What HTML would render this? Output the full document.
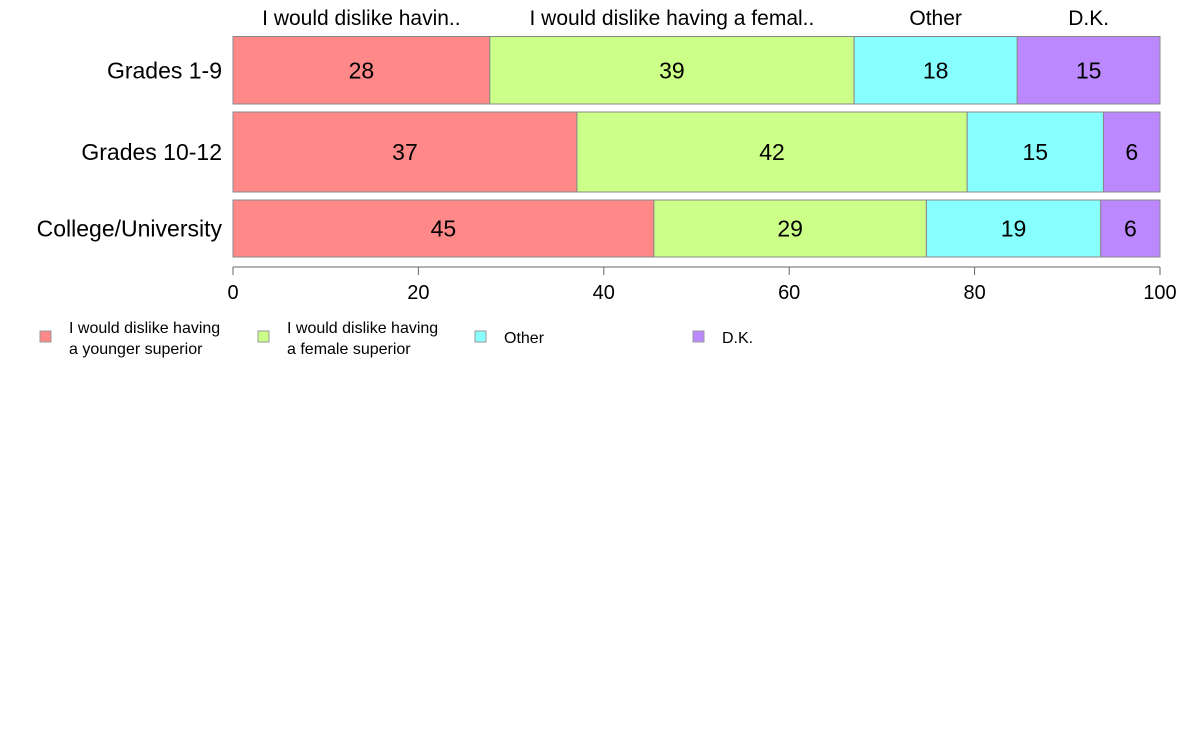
<!DOCTYPE html>
<html><head><meta charset="utf-8"><style>
body{margin:0;background:#fff;width:1188px;height:736px;overflow:hidden;font-family:"Liberation Sans",sans-serif;}
</style></head><body>
<svg id="chart" width="1188" height="736" xmlns="http://www.w3.org/2000/svg" font-family="Liberation Sans, sans-serif"></svg>
<script>
const categories = ["Grades 1-9", "Grades 10-12", "College/University"];
const seriesNames = ["I would dislike having a younger superior", "I would dislike having a female superior", "Other", "D.K."];
const headerLabels = ["I would dislike havin..", "I would dislike having a femal..", "Other", "D.K."];
const younger = [27.7, 37.1, 45.4];
const female = [39.3, 42.1, 29.4];
const other = [17.6, 14.7, 18.8];
const dk = [15.4, 6.1, 6.4];
const ticks = [0, 20, 40, 60, 80, 100];

const colors = ["#ff8888", "#ccff88", "#88ffff", "#bb88ff"];
const series = [younger, female, other, dk];
const svg = document.getElementById('chart');
const NS = "http://www.w3.org/2000/svg";
const x0 = 233, x1 = 1160;
const xs = v => x0 + (x1 - x0) * v / 100;
const rows = [[36.5, 104], [112, 192], [200, 257]];
function mk(tag, attrs, parent) {
  const e = document.createElementNS(NS, tag);
  for (const k in attrs) e.setAttribute(k, attrs[k]);
  (parent || svg).appendChild(e);
  return e;
}
categories.forEach((c, i) => {
  const [t, b] = rows[i];
  const g = mk('g', {});
  
  
  const lbl = mk('text', {x: 222, y: (t + b) / 2 + 8, 'text-anchor': 'end', 'font-size': 23, fill: '#000'}, g);
  lbl.textContent = c;
  
  
  let acc = 0;
  series.forEach((s, j) => {
    const v = s[i];
    const r = mk('rect', {x: xs(acc), y: t, width: xs(acc + v) - xs(acc), height: b - t, fill: colors[j], stroke: '#888', 'stroke-width': 1}, g);
    
    
    const tx = mk('text', {x: (xs(acc) + xs(acc + v)) / 2, y: (t + b) / 2 + 8, 'text-anchor': 'middle', 'font-size': 23, fill: '#000'}, g);
    tx.textContent = Math.round(v);
    
    
    if (i === 0) {
      const h = mk('text', {x: (xs(acc) + xs(acc + v)) / 2, y: 25, 'text-anchor': 'middle', 'font-size': 21, fill: '#000'});
      h.textContent = headerLabels[j];
      
      
    }
    acc += v;
  });
});
// axis
const ax = mk('g', {});


mk('line', {x1: x0, x2: x1, y1: 267, y2: 267, stroke: '#666', 'stroke-width': 1}, ax);
ticks.forEach(t => {
  mk('line', {x1: xs(t), x2: xs(t), y1: 267, y2: 275, stroke: '#666'}, ax);
  const tl = mk('text', {x: xs(t), y: 299, 'text-anchor': 'middle', 'font-size': 20, fill: '#000'}, ax);
  tl.textContent = t;
  
  
});
// legend
const lx = [40, 258, 475, 693];
const lines = [["I would dislike having", "a younger superior"], ["I would dislike having", "a female superior"], ["Other"], ["D.K."]];
seriesNames.forEach((n, j) => {
  const g = mk('g', {});
  
  
  mk('rect', {x: lx[j], y: 331, width: 11, height: 11, fill: colors[j], stroke: '#999'}, g);
  const L = lines[j];
  L.forEach((s, k) => {
    const t = mk('text', {x: lx[j] + 29, y: L.length === 1 ? 343 : 333 + k * 21, 'font-size': 16, fill: '#000'}, g);
    t.textContent = s;
  });
});
</script>
</body></html>
